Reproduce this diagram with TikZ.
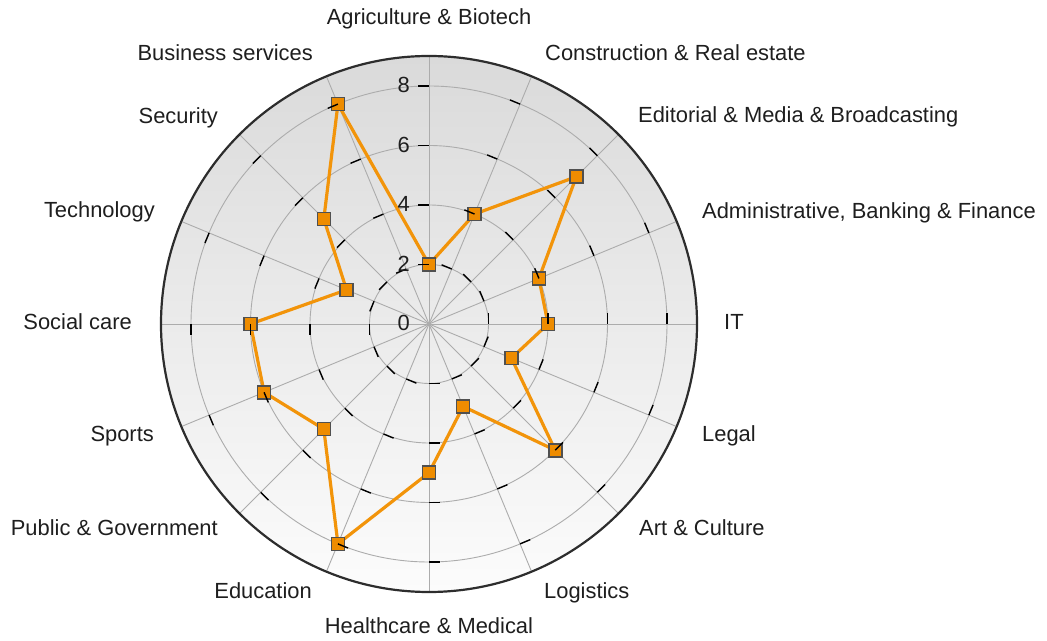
\documentclass[tikz,border=0pt]{standalone}
\usepackage{fontspec}
\setmainfont{Liberation Sans}
\definecolor{txt}{RGB}{30,30,30}
\definecolor{gridc}{RGB}{172,172,172}
\definecolor{orangeline}{RGB}{242,148,10}
\definecolor{orangefill}{RGB}{238,140,0}
\definecolor{markerborder}{RGB}{80,80,80}
\definecolor{bgtop}{RGB}{218,218,218}
\definecolor{bgbottom}{RGB}{252,252,252}
\definecolor{rimc}{RGB}{45,45,45}
\begin{document}
\begin{tikzpicture}[x=1pt,y=1pt,
  lbl/.style={font=\fontsize{21.9}{26}\selectfont, text=txt, inner sep=0pt},
  marker/.style={rectangle, draw=markerborder, line width=1.6pt, fill=orangefill, minimum size=13pt, inner sep=0pt},
  gridline/.style={draw=gridc, line width=0.9pt},
  rim/.style={draw=rimc, line width=2.2pt},
  tickmark/.style={draw=black, line width=1.4pt},
  dataline/.style={draw=orangeline, line width=3.2pt, line join=round}]
\useasboundingbox (0,0) rectangle (1047,640);
\coordinate (O) at (429,316);
% background disc
\shade[top color=bgtop, bottom color=bgbottom] (O) circle (268);
% grid circles and spokes
\foreach \v in {2,4,6,8} \draw[gridline] (O) circle ({\v*29.75});
\foreach \k in {0,...,15} \draw[gridline] (O) -- ++({90-22.5*\k}:268);
\draw[rim] (O) circle (268);
% data
\foreach \val [count=\i from 0] in {2,4,7,4,4,3,6,3,5,8,5,6,6,3,5,8}
  \path (O) ++({90-22.5*\i}:{\val*29.75}) coordinate (c\i);
\draw[dataline] (c0) -- (c1) -- (c2) -- (c3) -- (c4) -- (c5) -- (c6) -- (c7) -- (c8) -- (c9) -- (c10) -- (c11) -- (c12) -- (c13) -- (c14) -- (c15) -- cycle;
\foreach \i in {0,...,15} \node[marker] (m\i) at (c\i) {};
% ticks
\foreach \k in {0,...,15} \foreach \v in {2,4,6,8}
  \draw[tickmark] (O) ++({90-22.5*\k}:{\v*29.75}) -- ++({180-22.5*\k}:11);
% axis values
\foreach \v in {0,2,4,6,8}
  \node[lbl, anchor=east] (a\v) at (410, {317+\v*29.75}) {\v};
% category labels
\node[lbl, anchor=base] (l0) at (429,615) {Agriculture \& Biotech};
\node[lbl, anchor=base west] (l1) at (545,579) {Construction \& Real estate};
\node[lbl, anchor=base west] (l2) at (638,517) {Editorial \& Media \& Broadcasting};
\node[lbl, anchor=base west] (l3) at (702,421) {Administrative, Banking \& Finance};
\node[lbl, anchor=base west] (l4) at (724,310) {IT};
\node[lbl, anchor=base west] (l5) at (702,198) {Legal};
\node[lbl, anchor=base west] (l6) at (639,104) {Art \& Culture};
\node[lbl, anchor=base west] (l7) at (544,41) {Logistics};
\node[lbl, anchor=base] (l8) at (429,6) {Healthcare \& Medical};
\node[lbl, anchor=base east] (l9) at (312,41) {Education};
\node[lbl, anchor=base east] (l10) at (218,104) {Public \& Government};
\node[lbl, anchor=base east] (l11) at (154,198) {Sports};
\node[lbl, anchor=base east] (l12) at (132,310) {Social care};
\node[lbl, anchor=base east] (l13) at (155,422) {Technology};
\node[lbl, anchor=base east] (l14) at (218,516) {Security};
\node[lbl, anchor=base east] (l15) at (313,579) {Business services};
\end{tikzpicture}
\end{document}
